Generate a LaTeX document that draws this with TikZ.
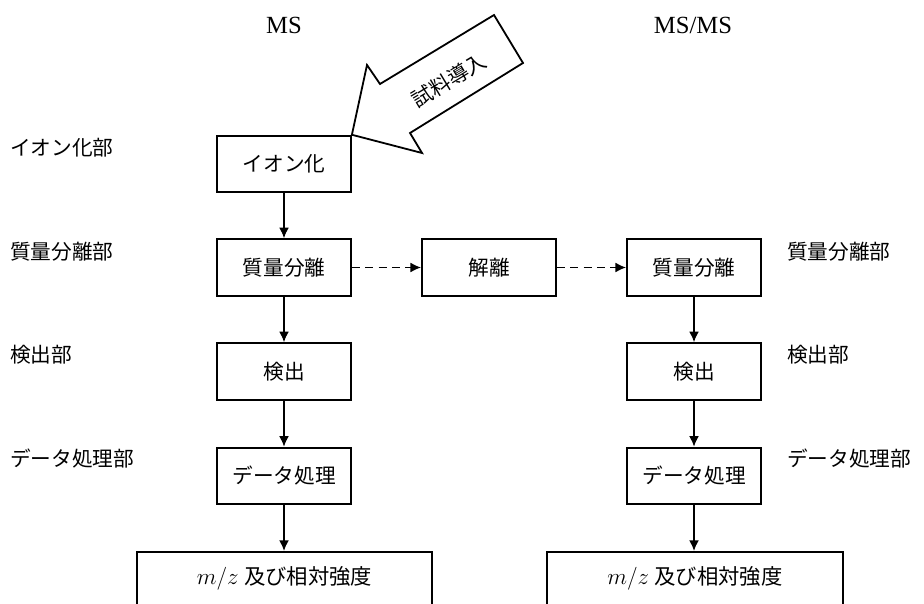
\documentclass[tikz,border=0pt]{standalone}
\usepackage{fontspec}
\setmainfont{Liberation Serif}
\newfontfamily\jp{Noto Sans CJK JP}
\usetikzlibrary{arrows.meta}
\begin{document}
\begin{tikzpicture}[x=0.75pt,y=-0.75pt,
  box/.style={draw,line width=1.35pt,minimum width=100.5pt,minimum height=42.5pt,inner sep=0pt,font=\jp\fontsize{15.5pt}{18pt}\selectfont},
  bigbox/.style={draw,line width=1.35pt,minimum width=221.5pt,minimum height=60pt,inner sep=0pt},
  lbl/.style={anchor=west,inner sep=0pt,font=\jp\fontsize{15.5pt}{18pt}\selectfont},
  ttl/.style={inner sep=0pt,font=\fontsize{18.5pt}{21pt}\selectfont},
  restxt/.style={inner sep=0pt,font=\fontsize{16pt}{19pt}\selectfont},
  flow/.style={line width=1.35pt,-{Latex[length=8pt,width=7.5pt]}},
  dflow/.style={flow,dashed,dash pattern=on 6pt off 4pt}]
\clip (0,0) rectangle (924,603);
\fill[white] (0,0) rectangle (924,603);
% titles
\node[ttl] (t1) at (284,25) {MS};
\node[ttl] (t2) at (693,25) {MS/MS};
% left column
\node[box] (ion) at (284,164) {イオン化};
\node[box] (sep1) at (284,267.5) {質量分離};
\node[box] (det1) at (284,371.5) {検出};
\node[box] (dat1) at (284,476) {データ処理};
\node[bigbox,anchor=north] (res1) at (284.5,551) {};
\node[restxt] (res1t) at (284.5,578) {$m/z$ {\jp 及び相対強度}};
% middle
\node[box] (dis) at (489,267.5) {解離};
% right column
\node[box] (sep2) at (694,267.5) {質量分離};
\node[box] (det2) at (694,371.5) {検出};
\node[box] (dat2) at (694,476) {データ処理};
\node[bigbox,anchor=north] (res2) at (695,551) {};
\node[restxt] (res2t) at (695,578) {$m/z$ {\jp 及び相対強度}};
% side labels
\node[lbl] (l1) at (10,148) {イオン化部};
\node[lbl] (l2) at (10,252) {質量分離部};
\node[lbl] (l3) at (10,355) {検出部};
\node[lbl] (l4) at (10,459) {データ処理部};
\node[lbl] (r2) at (787,252) {質量分離部};
\node[lbl] (r3) at (787,355) {検出部};
\node[lbl] (r4) at (787,459) {データ処理部};
% arrows
\draw[flow] (ion) -- (sep1);
\draw[flow] (sep1) -- (det1);
\draw[flow] (det1) -- (dat1);
\draw[flow] (dat1) -- (dat1 |- res1.north);
\draw[flow] (sep2) -- (det2);
\draw[flow] (det2) -- (dat2);
\draw[flow] (dat2) -- (dat2 |- res2.north);
\draw[dflow] (sep1) -- (dis);
\draw[dflow] (dis) -- (sep2);
% block arrow
\draw[line width=1.35pt,line join=miter,fill=white] (ion.north east) -- (367,65) -- (380,84) -- (494,15) -- (523,63) -- (410,133) -- (422,153) -- cycle;
\node[rotate=31,inner sep=0pt,font=\jp\fontsize{15.5pt}{18pt}\selectfont] (smp) at (449,80) {試料導入};
\end{tikzpicture}
\end{document}
